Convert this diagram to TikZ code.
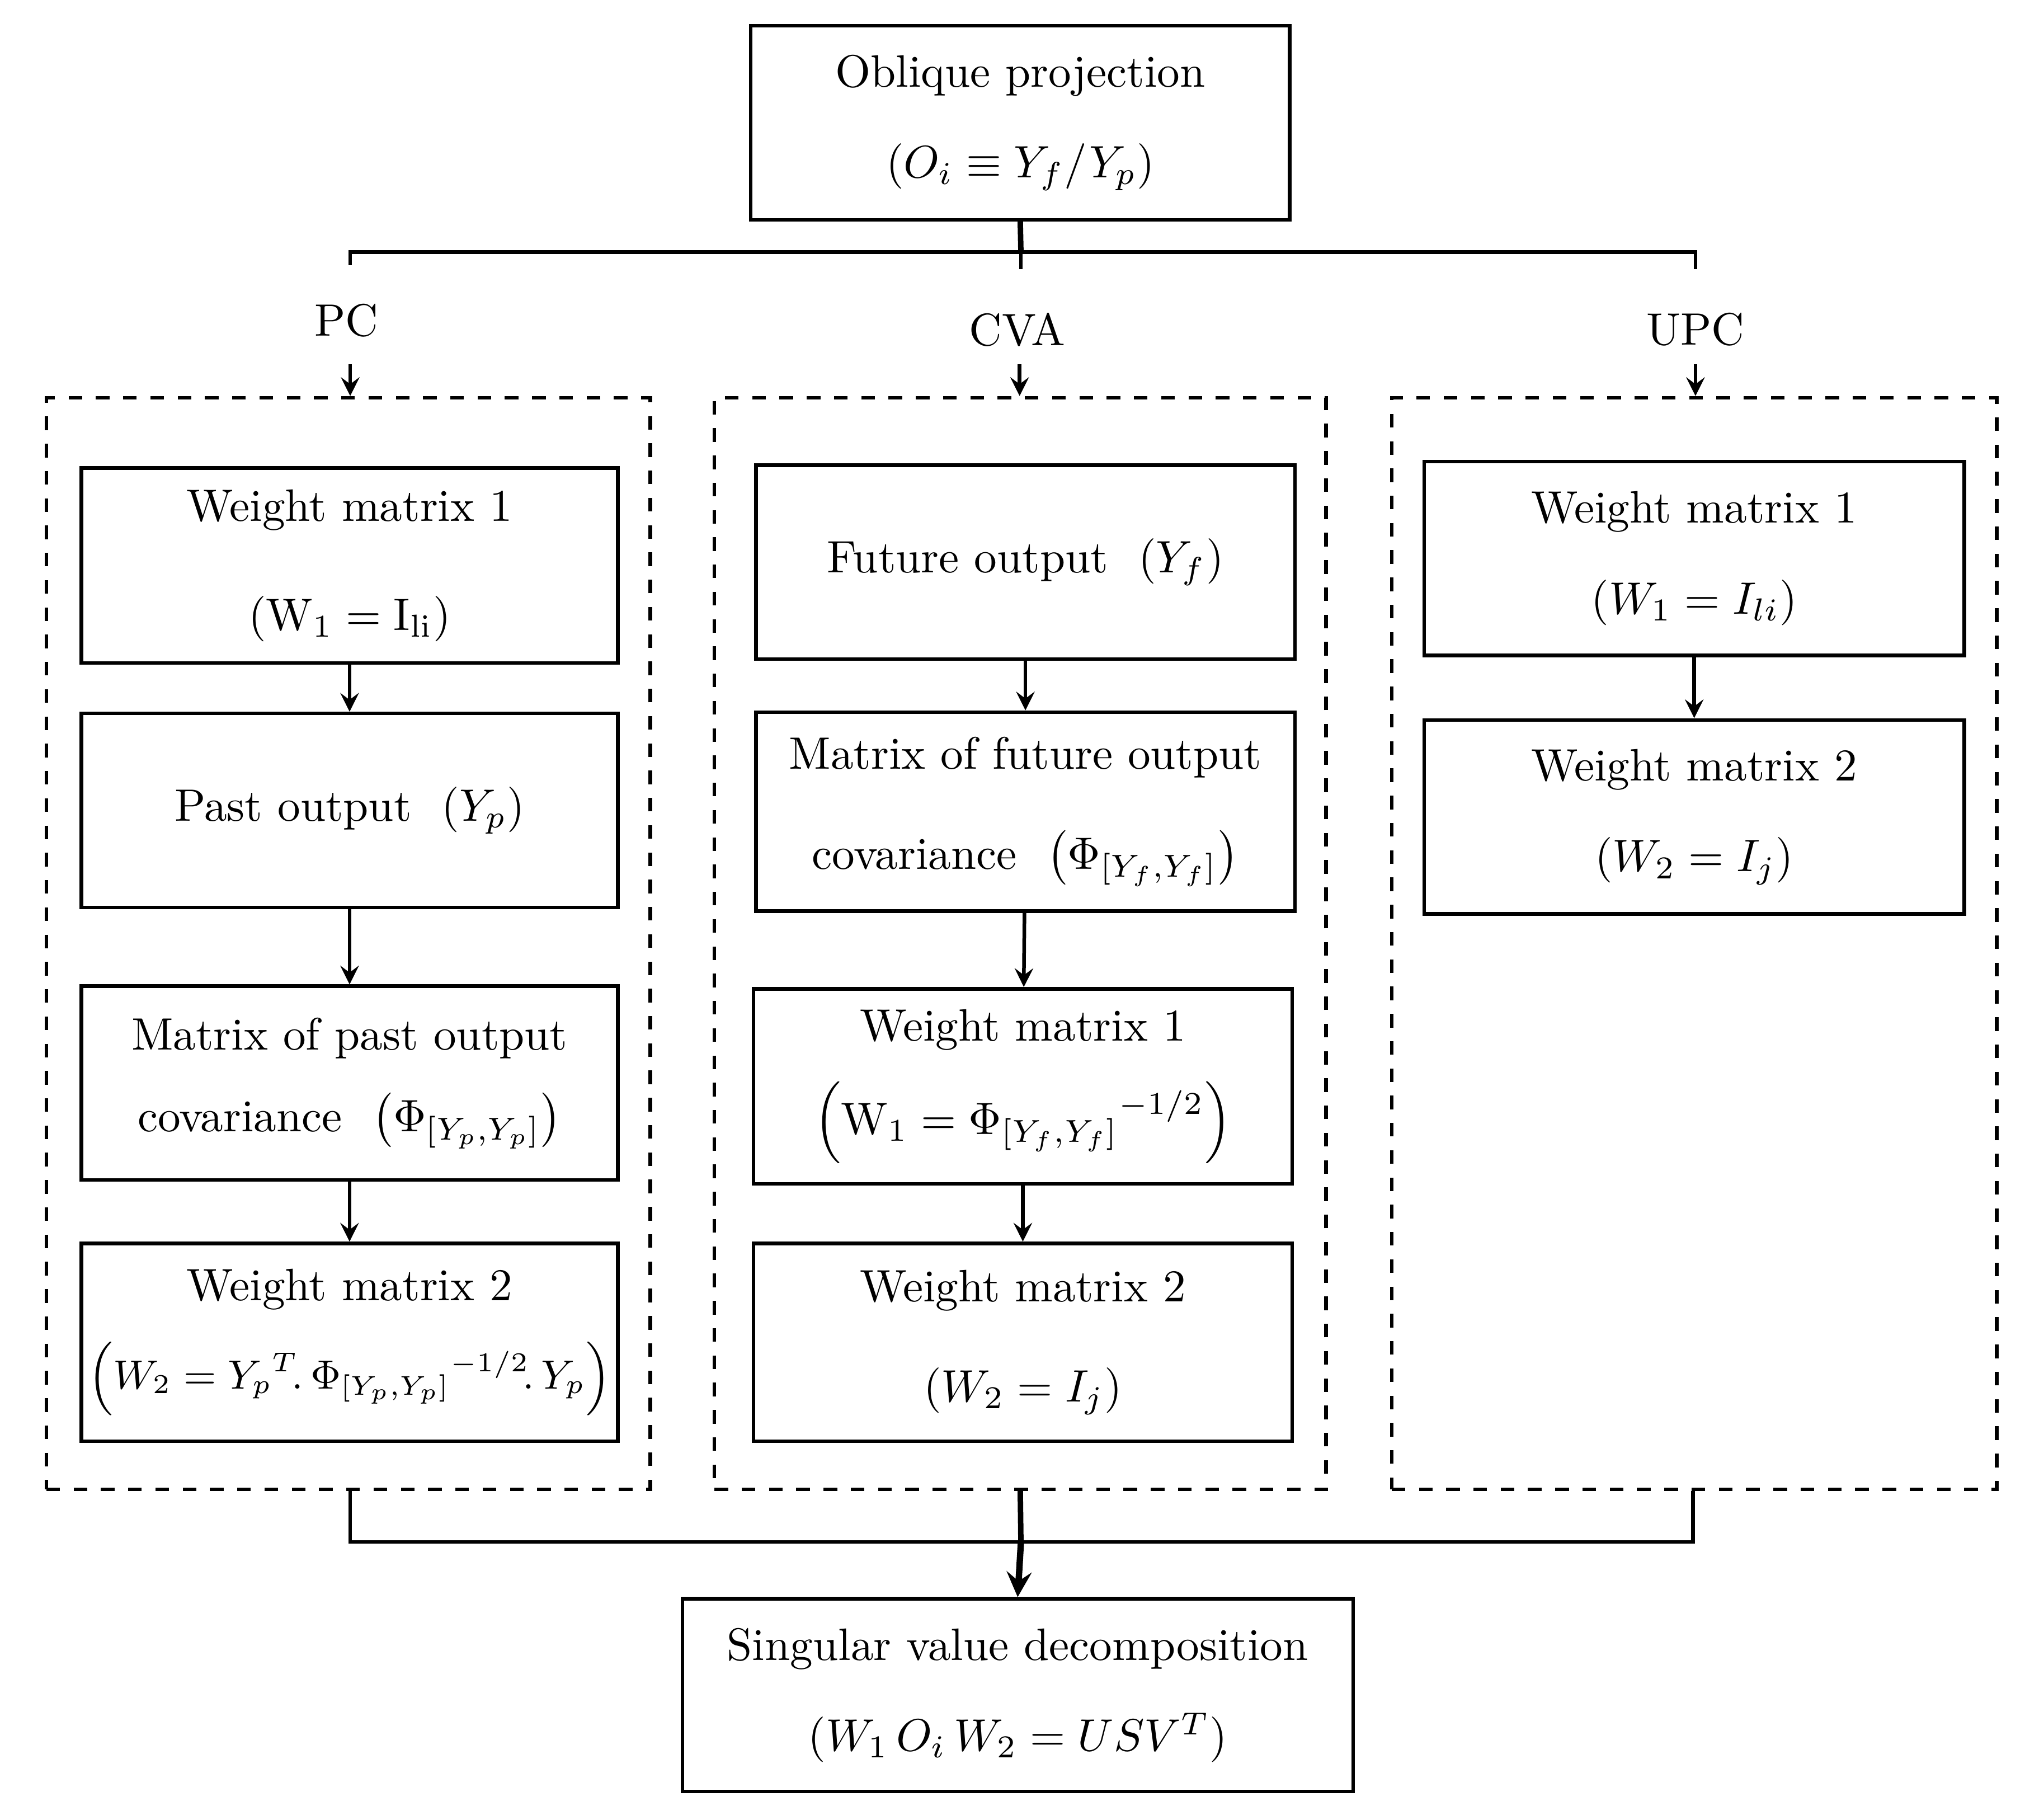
\documentclass[tikz,border=0pt]{standalone}
\usepackage{amsmath}
\begin{document}
\begin{tikzpicture}[x=0.01cm,y=-0.01cm,
  box/.style={draw,thick,align=center,inner sep=0pt,font=\normalsize},
  dbox/.style={draw,thick,dashed,inner sep=0pt},
  lab/.style={font=\normalsize},
  arr/.style={->,thick,>=stealth},
  ln/.style={thick}]
\useasboundingbox (0,0) rectangle (1567,1408);
\newcommand{\bx}[6]{\node[box,minimum width=#4*0.01cm-#2*0.01cm,minimum height=#5*0.01cm-#3*0.01cm] (#1) at ({(#2+#4)/2},{(#3+#5)/2}) {#6};}
\bx{obl}{581}{20}{998}{170}{Oblique projection\\[8pt] $(O_i \equiv Y_f/Y_p)$}
\node[dbox,minimum width=4.67cm,minimum height=8.44cm] (pc) at (269.5,730) {};
\node[dbox,minimum width=4.73cm,minimum height=8.44cm] (cva) at (789.5,730) {};
\node[dbox,minimum width=4.68cm,minimum height=8.44cm] (upc) at (1311,730) {};
\bx{p1}{63}{362}{478}{513}{Weight matrix 1\\[12pt] $(\mathrm{W}_1 = \mathrm{I}_{\mathrm{li}})$}
\bx{p2}{63}{552}{478}{702}{Past output \ $\left(Y_p\right)$}
\bx{p3}{63}{763}{478}{913}{Matrix of past output\\[6pt] covariance \ ${\left(\Phi_{[Y_p,Y_p]}\right)}$}
\bx{p4}{63}{962}{478}{1115}{Weight matrix 2\\[6pt] {\small$\left(W_2 = {Y_p}^{T}\!.\,{\Phi_{[Y_p,Y_p]}}^{-1/2}\!.\,Y_p\right)$}}
\bx{c1}{585}{360}{1002}{510}{Future output \ $\left(Y_f\right)$}
\bx{c2}{585}{551}{1002}{705}{Matrix of future output\\[10pt] covariance \ $\left(\Phi_{[Y_f,Y_f]}\right)$}
\bx{c3}{583}{765}{1000}{916}{Weight matrix 1\\[6pt] $\left(\mathrm{W}_1 = {\Phi_{[Y_f,Y_f]}}^{-1/2}\right)$}
\bx{c4}{583}{962}{1000}{1115}{Weight matrix 2\\[10pt] $\left(W_2 = I_j\right)$}
\bx{u1}{1102}{357}{1520}{507}{Weight matrix 1\\[8pt] $(W_1 = I_{li})$}
\bx{u2}{1102}{557}{1520}{707}{Weight matrix 2\\[8pt] $\left(W_2 = I_j\right)$}
\bx{svd}{528}{1237}{1047}{1386}{Singular value decomposition\\[8pt] $(W_1\,O_i\,W_2 = USV^T)$}
\node[lab] (lpc) at (268,248) {PC};
\node[lab] (lcva) at (787,255) {CVA};
\node[lab] (lupc) at (1312,255) {UPC};
\coordinate (t0) at (790,195);
\coordinate (tl) at (271,195);
\coordinate (tr) at (1312,195);
\draw[ln,line width=1.2pt] (obl.south) -- (t0);
\draw[ln] (271,205) -- (tl) -- (tr) -- (1312,208);
\draw[ln] (790,195) -- (790,208);
\draw[arr] (271,282) -- (pc.north -| 271,0);
\draw[arr] (789,282) -- (cva.north -| 789,0);
\draw[arr] (1312,282) -- (upc.north -| 1312,0);
\draw[arr] (p1) -- (p2); \draw[arr] (p2) -- (p3); \draw[arr] (p3) -- (p4);
\draw[arr] (c1) -- (c2); \draw[arr] (c2) -- (c3); \draw[arr] (c3) -- (c4);
\draw[arr] (u1) -- (u2);
\coordinate (b0) at (790,1193);
\draw[ln] (pc.south -| 271,0) -- (271,1193) -- (1310,1193) -- (upc.south -| 1310,0);
\draw[ln,line width=1.2pt] (cva.south) -- (b0);
\draw[->,line width=1.4pt,>=stealth] (b0) -- (svd.north);
\end{tikzpicture}
\end{document}
